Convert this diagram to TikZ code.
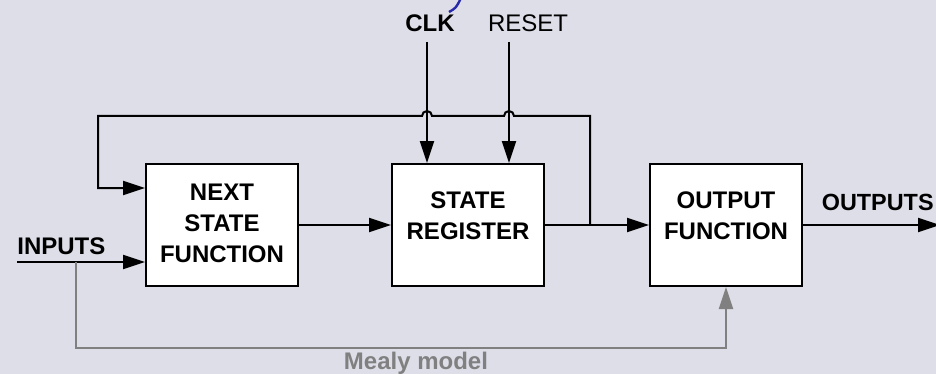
\documentclass[tikz,border=0pt]{standalone}
\usepackage{fontspec}
\setmainfont{Liberation Sans}
\usetikzlibrary{arrows.meta,positioning,calc}
\definecolor{boardgray}{RGB}{221,222,232}
\definecolor{mealygray}{RGB}{128,128,128}
\definecolor{penblue}{RGB}{40,40,170}

\begin{document}
\begin{tikzpicture}[x=0.5pt, y=-0.5pt,
    fsm/.style={rectangle, draw=black, fill=white, line width=1pt, minimum width=76pt,
        minimum height=61pt, inner sep=0pt, font=\fontsize{12}{15.5}\selectfont\bfseries},
    sig/.style={inner sep=0pt, font=\fontsize{12}{14}\selectfont\bfseries},
    arr/.style={-{Triangle[length=11pt,width=7pt]}, line width=1pt},
    garr/.style={-{Triangle[length=11pt,width=7pt]}, line width=1pt, mealygray}
]
    % Background
    \fill[boardgray] (0,0) rectangle (936,374);
    \useasboundingbox (0,0) rectangle (936,374);
    \draw[penblue, line width=1.2pt] (449,12) .. controls (456,8) .. (461,-2);

    % Blocks
    \node[fsm] (nsf) at (222,225) {\begin{tabular}{c}NEXT\\STATE\\FUNCTION\end{tabular}};
    \node[fsm] (sreg) at (468,225) {\begin{tabular}{c}STATE\\REGISTER\\[7pt]\end{tabular}};
    \node[fsm] (outf) at (726,225) {\begin{tabular}{c}OUTPUT\\FUNCTION\\[7pt]\end{tabular}};

    % Signal names
    \node[sig] (clk) at (430,23) {CLK};
    \node[sig, font=\fontsize{12}{14}\selectfont] (reset) at (528,23) {RESET};
    \node[sig, anchor=west] (inputs) at (17,246) {INPUTS};
    \node[sig, anchor=east, font=\fontsize{11.7}{14}\selectfont\bfseries] (outputs) at (934,202) {OUTPUTS};
    \node[sig, text=mealygray] (mealy) at (416,363) {Mealy model};

    \coordinate (inp) at (17,262);
    \coordinate (tap) at (590,225);
    \coordinate (fbtop) at (590,116);
    \coordinate (fbleft) at (98,116);
    \coordinate (clkin) at (427,42);
    \coordinate (rstin) at (509,42);
    \coordinate (outend) at (940,225);
    \coordinate (mealyin) at (76,262);
    \coordinate (mealylow) at (76,348);

    % Connections
    \draw[arr] (inp) -- ([yshift=-18.5pt]nsf.west);
    \draw[arr] (nsf.east) -- (sreg.west);
    \draw[arr] (sreg.east) -- (outf.west);
    \draw[arr] (outf.east) -- (outend);
    \draw[arr] (clkin) -- (sreg.north -| clkin);
    \draw[arr] (rstin) -- (sreg.north -| rstin);
    \draw[arr] (tap) -- (fbtop)
        -- ($(rstin |- fbtop)+(5,0)$) arc[start angle=0, end angle=180, radius=2.5pt]
        -- ($(clkin |- fbtop)+(5,0)$) arc[start angle=0, end angle=180, radius=2.5pt]
        -- (fbleft) |- ([yshift=18.5pt]nsf.west);
    \draw[garr] (mealyin) -- (mealylow) -| (outf.south);
\end{tikzpicture}
\end{document}
